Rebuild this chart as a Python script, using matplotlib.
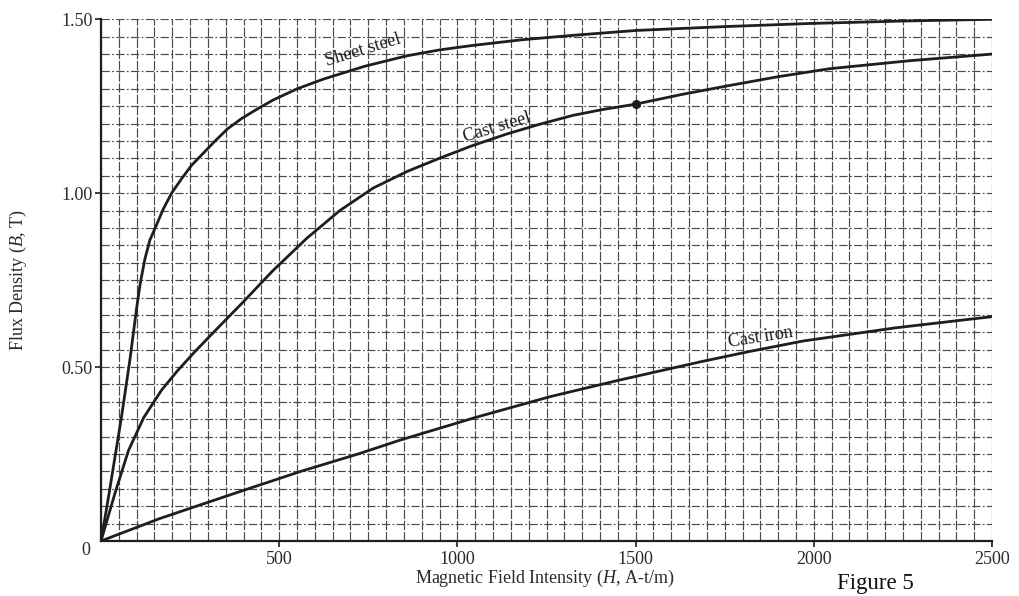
import numpy as np
import matplotlib
matplotlib.use("Agg")
import matplotlib.pyplot as plt
from matplotlib.ticker import MultipleLocator

# Data (H in A-t/m, B in T)
sheet_H = [0, 20, 58, 81, 100, 110, 123, 137, 152, 175, 198, 225, 254, 287, 320, 355, 395,
           440, 483, 550, 624, 740, 858, 950, 1044, 1180, 1325, 1503, 1750, 1989, 2250, 2500]
sheet_B = [0, 0.12, 0.36, 0.52, 0.67, 0.74, 0.81, 0.865, 0.90, 0.955, 1.00, 1.04, 1.08, 1.115, 1.15, 1.185, 1.215,
           1.243, 1.268, 1.300, 1.328, 1.365, 1.395, 1.412, 1.425, 1.441, 1.454, 1.468, 1.479, 1.488, 1.495, 1.50]

caststeel_H = [0, 40, 77, 120, 170, 215, 264, 330, 395, 480, 577, 670, 764, 860, 951, 1040, 1138,
               1230, 1325, 1410, 1500, 1630, 1765, 1900, 2045, 2270, 2500]
caststeel_B = [0, 0.14, 0.26, 0.355, 0.434, 0.49, 0.545, 0.615, 0.683, 0.775, 0.87, 0.95, 1.015, 1.063, 1.101, 1.136, 1.17,
               1.198, 1.224, 1.241, 1.256, 1.284, 1.31, 1.335, 1.358, 1.381, 1.40]

castiron_H = [0, 166, 404, 560, 727, 839, 1050, 1260, 1456, 1681, 1820, 1970, 2230, 2500]
castiron_B = [0, 0.065, 0.147, 0.2, 0.252, 0.29, 0.355, 0.415, 0.463, 0.515, 0.545, 0.575, 0.613, 0.645]

marked_H = [1500]
marked_B = [1.256]

x_ticks = [500, 1000, 1500, 2000, 2500]
x_ticklabels = ["500", "1000", "1500", "2000", "2500"]
y_ticks = [0.5, 1.0, 1.5]
y_ticklabels = ["0.50", "1.00", "1.50"]

serif = ["Liberation Serif", "DejaVu Serif"]
plt.rcParams["font.family"] = serif
plt.rcParams["mathtext.fontset"] = "custom"
plt.rcParams["mathtext.it"] = "Liberation Serif:italic"
plt.rcParams["mathtext.rm"] = "Liberation Serif"

fig = plt.figure(figsize=(10.2, 5.96), dpi=100)
ax = fig.add_axes([101/1020, 1-541/596, (992-101)/1020, (541-19.3)/596])

ax.set_xlim(0, 2500)
ax.set_ylim(0, 1.5)

# grid
ax.xaxis.set_minor_locator(MultipleLocator(50))
ax.yaxis.set_minor_locator(MultipleLocator(0.05))
ax.grid(which="both", axis="x", color="#4a4a4a", linewidth=0.85, linestyle=(0, (8, 1.5)))
ax.grid(which="both", axis="y", color="#4a4a4a", linewidth=0.85, linestyle=(0, (7, 2, 1.5, 2)))
ax.set_axisbelow(True)

ink = "#1e1e1e"
for H, B in [(sheet_H, sheet_B), (caststeel_H, caststeel_B), (castiron_H, castiron_B)]:
    ax.plot(H, B, color=ink, lw=2.0, solid_capstyle="round", solid_joinstyle="round")
ax.plot(marked_H, marked_B, "o", color=ink, ms=5.5)

ax.text(735, 1.41, "Sheet steel", rotation=17, ha="center", va="center", fontsize=13, color=ink)
ax.text(1110, 1.19, "Cast steel", rotation=17, ha="center", va="center", fontsize=13, color=ink)
ax.text(1850, 0.585, "Cast iron", rotation=9, ha="center", va="center", fontsize=13, color=ink)

for s in ["top", "right"]:
    ax.spines[s].set_visible(False)
for s in ["left", "bottom"]:
    ax.spines[s].set_linewidth(1.6)
    ax.spines[s].set_color(ink)

ax.set_xticks(x_ticks)
ax.set_xticklabels(x_ticklabels)
ax.set_yticks(y_ticks)
ax.set_yticklabels(y_ticklabels)
ax.tick_params(which="major", length=4, width=1.2, color=ink, labelsize=13, labelcolor="#2a2a2a", pad=3)
ax.tick_params(which="minor", length=0)
ax.tick_params(axis="y", pad=2)

ax.text(-30, -0.028, "0", ha="right", va="center", fontsize=13, color="#2a2a2a")

fig.text(545/1020, 1-578/596, r"Magnetic Field Intensity ($\mathit{H}$, A-t/m)", ha="center", va="center",
         fontsize=13, color="#2a2a2a")
fig.text(18/1020, 1-280/596, r"Flux Density ($\mathit{B}$, T)", ha="center", va="center",
         rotation=90, fontsize=13, color="#2a2a2a")
fig.text(875/1020, 1-584/596, "Figure 5", ha="center", va="center", fontsize=16.5, color="#111111")

fig.savefig("out.png", dpi=100, facecolor="white")
